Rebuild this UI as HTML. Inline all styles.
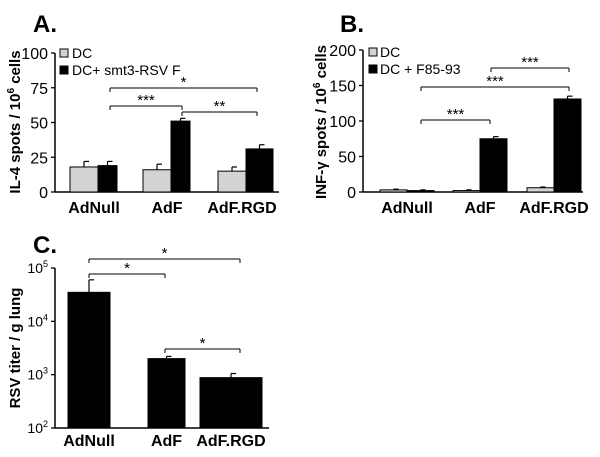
<!DOCTYPE html>
<html><head><meta charset="utf-8"><style>
body{margin:0;background:#fff;}
svg{display:block;font-family:"Liberation Sans",Arial,sans-serif;}
</style></head><body>
<svg id="s" width="600" height="457" xmlns="http://www.w3.org/2000/svg"></svg>
<script>
const catsAB=["AdNull","AdF","AdF.RGD"];
const aDC=[18,16,15], aDCerr=[4,4,3];
const aStim=[19,51,31], aStimErr=[3,2,3];
const aTicks=[0,25,50,75,100];
const bDC=[3,2,6], bDCerr=[1,1,1];
const bStim=[2,75,131], bStimErr=[1,3,4];
const bTicks=[0,50,100,150,200];
const cVals=[35000,2000,880], cErrTop=[60000,2200,1050];
const cTicks=[2,3,4,5];
const S=document.getElementById('s');const NS="http://www.w3.org/2000/svg";
function el(t,a,txt){const e=document.createElementNS(NS,t);for(const k in a)e.setAttribute(k,a[k]);if(txt!==undefined)e.textContent=txt;S.appendChild(e);return e;}
function line(x1,y1,x2,y2,w){return el('line',{x1,y1,x2,y2,stroke:'#000','stroke-width':w||1.3});}
function axes(x0,yTop,yBot,xEnd,ticks,yf,fmt){
 const ax=line(x0,yTop,x0,yBot,1.5);
 const bx=line(x0,yBot,xEnd,yBot,1.5);
 ticks.forEach(t=>{const y=yf(t);line(x0-4,y,x0,y,1.3);fmt(t,y);});
}
function bracket(x1,x2,y,label){line(x1,y,x2,y,1);line(x1,y,x1,y+4,1);line(x2,y,x2,y+4,1);
 const t=el('text',{x:(x1+x2)/2,y:y-1,'font-size':15,'text-anchor':'middle'},label);
 }
function bar(x,w,y0,y,fill,err,name){const r=el('rect',{x,y:Math.min(y,y0),width:w,height:Math.abs(y0-y),fill,stroke:'#000','stroke-width':1});
 
 const cx=x+w/2;line(cx,y,cx,err,1.2);line(cx,err,cx+5,err,1.2);}
// Panel A
{const yA=v=>192-v*(139/100);
 el('text',{x:33,y:32,'font-size':24,'font-weight':'bold'},'A.');
 axes(55,53,192,279,aTicks,yA,(t,y)=>el('text',{x:48,y:y+6,'font-size':16,'text-anchor':'end'},t));
 const gx=[70,143,218];
 catsAB.forEach((c,i)=>{bar(gx[i],28,192,yA(aDC[i]),'#d3d3d3',yA(aDC[i]+aDCerr[i]),'bar-a-dc-'+i);
  bar(gx[i]+28,19+(i==2?8:0),192,yA(aStim[i]),'#000',yA(aStim[i]+aStimErr[i]),'bar-a-stim-'+i);
  el('text',{x:gx[i]+24,y:213,'font-size':16,'font-weight':'bold','text-anchor':'middle'},c);});
 el('rect',{x:60,y:49,width:8,height:8,fill:'#d3d3d3',stroke:'#000'});el('text',{x:72,y:58,'font-size':14},'DC');
 el('rect',{x:60,y:66,width:8,height:8,fill:'#000',stroke:'#000'});el('text',{x:72,y:75,'font-size':14},'DC+ smt3-RSV F');
 bracket(110,257,88,'*');bracket(110,182,106,'***');bracket(182,257,112,'**');
 el('text',{x:0,y:0,'font-size':15,'font-weight':'bold','text-anchor':'middle',transform:'translate(20,122) rotate(-90)'}).innerHTML='IL-4 spots / 10<tspan dy="-6" font-size="10">6</tspan><tspan dy="6"> cells</tspan>';
}
// Panel B
{const yB=v=>192-v*(142/200);
 el('text',{x:340,y:32,'font-size':24,'font-weight':'bold'},'B.');
 axes(363,50,192,583,bTicks,yB,(t,y)=>el('text',{x:356,y:y+6,'font-size':16,'text-anchor':'end'},t));
 const gx=[380,453,527];
 catsAB.forEach((c,i)=>{bar(gx[i],27,192,yB(bDC[i]),'#d3d3d3',yB(bDC[i]+bDCerr[i]),'bar-b-dc-'+i);
  bar(gx[i]+27,27,192,yB(bStim[i]),'#000',yB(bStim[i]+bStimErr[i]),'bar-b-stim-'+i);
  el('text',{x:gx[i]+27,y:213,'font-size':16,'font-weight':'bold','text-anchor':'middle'},c);});
 el('rect',{x:369,y:48,width:8,height:8,fill:'#d3d3d3',stroke:'#000'});el('text',{x:380,y:57,'font-size':14},'DC');
 el('rect',{x:369,y:65,width:8,height:8,fill:'#000',stroke:'#000'});el('text',{x:380,y:74,'font-size':14},'DC + F85-93');
 bracket(421,490,120,'***');bracket(421,569,87,'***');bracket(491,569,68,'***');
 el('text',{x:0,y:0,'font-size':15,'font-weight':'bold','text-anchor':'middle',transform:'translate(326,122) rotate(-90)'}).innerHTML='INF-γ spots / 10<tspan dy="-6" font-size="10">6</tspan><tspan dy="6"> cells</tspan>';
}
// Panel C
{const yC=v=>428-(Math.log10(v)-2)*(160/3);
 el('text',{x:33,y:253,'font-size':24,'font-weight':'bold'},'C.');
 axes(55,268,428,269,cTicks,e=>428-(e-2)*(160/3),(t,y)=>el('text',{x:48,y:y+5,'font-size':14,'text-anchor':'end'}).innerHTML='10<tspan dy="-6" font-size="9">'+t+'</tspan>');
 const gx=[68,148,200], gw=[42,37,62];
 catsAB.forEach((c,i)=>{bar(gx[i],gw[i],428,yC(cVals[i]),'#000',yC(cErrTop[i]),'bar-c-'+i);
  el('text',{x:gx[i]+gw[i]/2,y:446,'font-size':16,'font-weight':'bold','text-anchor':'middle'},c);});
 bracket(89,240,259,'*');bracket(89,165,274,'*');bracket(165,240,349,'*');
 el('text',{x:0,y:0,'font-size':15,'font-weight':'bold','text-anchor':'middle',transform:'translate(20,348) rotate(-90)'},'RSV titer / g lung');
}
</script>
</body></html>
